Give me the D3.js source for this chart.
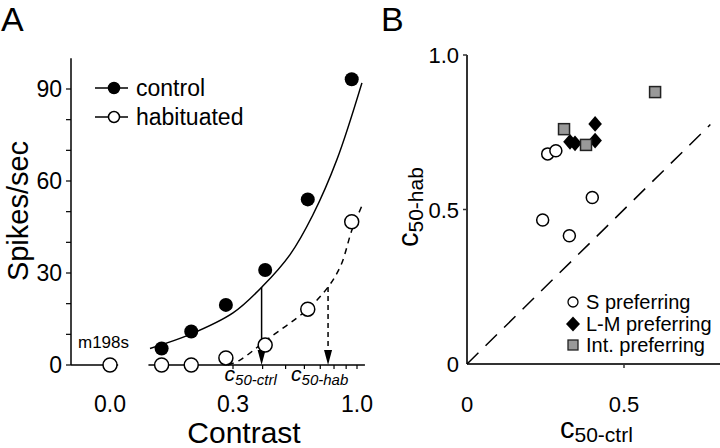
<!DOCTYPE html>
<html><head><meta charset="utf-8">
<script src="https://cdn.jsdelivr.net/npm/d3@7"></script>
<style>body{margin:0;background:#fff} svg{display:block} text{font-family:"Liberation Sans",Arial,Helvetica,sans-serif;fill:#000}</style>
</head><body><svg id="c" width="720" height="448"></svg>
<script>
// ---------- Panel A data ----------
const contrast = [0.15, 0.2, 0.28, 0.41, 0.62, 0.95];
const controlRate = [5.4, 10.9, 19.6, 31.0, 54.0, 93.2];
const habituatedRate = [0, 0, 2.3, 6.5, 18.2, 46.7];
const blankContrast = [0];
const blankRate = [0];
const controlFitContrast = [0.134, 0.198, 0.30, 0.398, 0.522, 0.652, 0.823, 1.049];
const controlFitRate = [5.4, 10.0, 17.0, 25.5, 36.0, 49.0, 67.0, 92.0];
const habFitContrast = [0.286, 0.321, 0.416, 0.613, 0.755, 0.856, 0.952, 1.05];
const habFitRate = [0, 1.6, 8.2, 17.9, 25.4, 32.6, 44.0, 52];
const c50Names = ["ctrl", "hab"];
const c50Values = [0.396, 0.755];
const c50Rates = [25.4, 25.4];
const yTicksA = [0, 30, 60, 90];
const yMinorA = [10, 20, 40, 50, 70, 80];
const xTicksA = [0.3, 1.0];
const xTickLabelsA = ["0.3", "1.0"];
const xMinorA = [0.2, 0.4, 0.5, 0.6, 0.7, 0.8, 0.9];
const legendA = ["control", "habituated"];
const cellName = "m198s";

// ---------- Panel B data ----------
const sPrefCtrl = [0.257, 0.283, 0.399, 0.241, 0.326];
const sPrefHab  = [0.680, 0.690, 0.539, 0.466, 0.415];
const lmPrefCtrl = [0.328, 0.344, 0.408, 0.408];
const lmPrefHab  = [0.719, 0.714, 0.777, 0.723];
const intPrefCtrl = [0.309, 0.379, 0.599];
const intPrefHab  = [0.760, 0.709, 0.880];
const ticksB = [0, 0.5, 1.0];
const tickLabelsB = ["0", "0.5", "1.0"];
const legendB = ["S preferring", "L-M preferring", "Int. preferring"];

const svg = d3.select("#c");

// ================= PANEL A =================
const xA = d3.scaleLog().domain([0.3, 1.0]).range([233, 357]);
const xZero = d3.scaleLinear().domain([-1, 1]).range([62, 158]);
const yA = d3.scaleLinear().domain([0, 90]).range([365, 89]);
const gA = svg.append("g");

svg.append("text").attr("x", 1).attr("y", 31).attr("font-size", 34).text("A");

// y axis
gA.append("line").attr("x1", 71).attr("x2", 71).attr("y1", yA(100)).attr("y2", yA(0))
  .attr("stroke", "#000").attr("stroke-width", 1.5);
gA.selectAll(".ytA").data(yTicksA.concat(yMinorA)).join("line")
  .attr("x1", 66).attr("x2", 71).attr("y1", d => yA(d)).attr("y2", d => yA(d))
  .attr("stroke", "#000").attr("stroke-width", 1.2);
gA.selectAll(".ylA").data(yTicksA).join("text")
  .attr("x", 62).attr("y", d => yA(d) + 8).attr("text-anchor", "end").attr("font-size", 23)
  .text(d => d);

// x axis (broken)
gA.append("line").attr("x1", 71).attr("x2", xZero(0.17)).attr("y1", yA(0)).attr("y2", yA(0))
  .attr("stroke", "#000").attr("stroke-width", 1.5);
gA.append("line").attr("x1", xA(0.132)).attr("x2", xA(1.08)).attr("y1", yA(0)).attr("y2", yA(0))
  .attr("stroke", "#000").attr("stroke-width", 1.5);
gA.selectAll(".xtA").data(xTicksA.concat(xMinorA)).join("line")
  .attr("x1", d => xA(d)).attr("x2", d => xA(d)).attr("y1", yA(0)).attr("y2", yA(0) + 4)
  .attr("stroke", "#000").attr("stroke-width", 1.2);
gA.selectAll(".xlA").data(xTicksA).join("text")
  .attr("x", d => xA(d)).attr("y", 412).attr("text-anchor", "middle").attr("font-size", 23)
  .text((d, i) => xTickLabelsA[i]);
gA.append("text").attr("x", xZero(0)).attr("y", 412).attr("text-anchor", "middle").attr("font-size", 23).text("0.0");

// axis titles
gA.append("text").attr("x", 244).attr("y", 443).attr("text-anchor", "middle").attr("font-size", 30).text("Contrast");
gA.append("text").attr("transform", "translate(28,211) rotate(-90)").attr("text-anchor", "middle")
  .attr("font-size", 29).text("Spikes/sec");

// fit curves
const lineA = d3.line().x(d => xA(d[0])).y(d => yA(d[1])).curve(d3.curveCatmullRom);
gA.append("path").attr("d", lineA(controlFitContrast.map((c, i) => [c, controlFitRate[i]])))
  .attr("fill", "none").attr("stroke", "#000").attr("stroke-width", 1.5);
gA.append("path").attr("d", lineA(habFitContrast.map((c, i) => [c, habFitRate[i]])))
  .attr("fill", "none").attr("stroke", "#000").attr("stroke-width", 1.5).attr("stroke-dasharray", "6,5");

// c50 arrows
c50Values.forEach((c, i) => {
  const x = xA(c);
  gA.append("line").attr("x1", x).attr("x2", x).attr("y1", yA(c50Rates[i])).attr("y2", yA(0) - 12)
    .attr("stroke", "#000").attr("stroke-width", 1.5).attr("stroke-dasharray", i === 1 ? "5,4" : null);
  gA.append("path").attr("d", `M${x - 4},${yA(0) - 15}L${x + 4},${yA(0) - 15}L${x},${yA(0)}Z`).attr("fill", "#000");
  const t = gA.append("text").attr("x", x - 37).attr("y", 381).attr("font-style", "italic").attr("font-size", 21);
  t.append("tspan").text("c");
  t.append("tspan").attr("dy", 4).attr("font-size", 15).text("50-" + c50Names[i]);
});

// data points
gA.selectAll(".hab").data(contrast).join("circle")
  .attr("cx", d => xA(d)).attr("cy", (d, i) => yA(habituatedRate[i])).attr("r", 7)
  .attr("fill", "#fff").attr("stroke", "#000").attr("stroke-width", 1.5);
gA.selectAll(".ctl").data(contrast).join("circle")
  .attr("cx", d => xA(d)).attr("cy", (d, i) => yA(controlRate[i])).attr("r", 7)
  .attr("fill", "#000");
gA.selectAll(".blank").data(blankContrast).join("circle")
  .attr("cx", d => xZero(d)).attr("cy", (d, i) => yA(blankRate[i])).attr("r", 7)
  .attr("fill", "#fff").attr("stroke", "#000").attr("stroke-width", 1.5);
gA.append("text").attr("x", 78).attr("y", 348).attr("font-size", 17).text(cellName);

// legend A
legendA.forEach((name, i) => {
  const y = 88 + i * 29;
  gA.append("line").attr("x1", 95).attr("x2", 128).attr("y1", y).attr("y2", y).attr("stroke", "#000").attr("stroke-width", 1.5);
  gA.append("circle").attr("cx", 114).attr("cy", y).attr("r", 5.5)
    .attr("fill", i === 0 ? "#000" : "#fff").attr("stroke", "#000").attr("stroke-width", 1.5);
  gA.append("text").attr("x", 136).attr("y", y + 8).attr("font-size", 23).text(name);
});

// ================= PANEL B =================
const xB = d3.scaleLinear().domain([0, 0.5]).range([467, 624]);
const yB = d3.scaleLinear().domain([0, 1]).range([364, 55]);
const gB = svg.append("g");
const axC = "#333";

svg.append("text").attr("x", 381).attr("y", 31).attr("font-size", 34).text("B");

gB.append("line").attr("x1", xB(0)).attr("x2", xB(0)).attr("y1", yB(1)).attr("y2", yB(0))
  .attr("stroke", axC).attr("stroke-width", 2);
gB.append("line").attr("x1", xB(0)).attr("x2", 720).attr("y1", yB(0)).attr("y2", yB(0))
  .attr("stroke", axC).attr("stroke-width", 2);
gB.selectAll(".ytB").data(ticksB.slice(1)).join("line")
  .attr("x1", xB(0) - 4).attr("x2", xB(0)).attr("y1", d => yB(d)).attr("y2", d => yB(d))
  .attr("stroke", axC).attr("stroke-width", 1.5);
gB.selectAll(".xtB").data([0.5]).join("line")
  .attr("x1", d => xB(d)).attr("x2", d => xB(d)).attr("y1", yB(0)).attr("y2", yB(0) + 4)
  .attr("stroke", axC).attr("stroke-width", 1.5);
gB.selectAll(".ylB").data(ticksB).join("text")
  .attr("x", xB(0) - 8).attr("y", d => yB(d) + 8).attr("text-anchor", "end").attr("font-size", 22)
  .text((d, i) => tickLabelsB[i]);
gB.selectAll(".xlB").data(ticksB.slice(0, 2)).join("text")
  .attr("x", d => xB(d)).attr("y", 412).attr("text-anchor", "middle").attr("font-size", 22)
  .text((d, i) => tickLabelsB[i]);

// axis titles B
const tx = gB.append("text").attr("x", 560).attr("y", 438).attr("font-size", 29);
tx.append("tspan").text("c");
tx.append("tspan").attr("dy", 4).attr("font-size", 21).text("50-ctrl");
const ty = gB.append("text").attr("transform", "translate(418,247) rotate(-90)").attr("font-size", 29);
ty.append("tspan").text("c");
ty.append("tspan").attr("dy", 5).attr("font-size", 21).text("50-hab");

// unity line
gB.append("line").attr("x1", xB(0)).attr("y1", yB(0)).attr("x2", xB(0.775)).attr("y2", yB(0.775))
  .attr("stroke", "#000").attr("stroke-width", 1.5).attr("stroke-dasharray", "16,10");

const diamond = (x, y, w, h) => `M${x},${y - h}L${x + w},${y}L${x},${y + h}L${x - w},${y}Z`;

gB.selectAll(".s").data(sPrefCtrl).join("circle")
  .attr("cx", d => xB(d)).attr("cy", (d, i) => yB(sPrefHab[i])).attr("r", 6)
  .attr("fill", "#fff").attr("stroke", "#000").attr("stroke-width", 1.5);
gB.selectAll(".lm").data(lmPrefCtrl).join("path")
  .attr("d", (d, i) => diamond(xB(d), yB(lmPrefHab[i]), 6.8, 7.8)).attr("fill", "#000");
gB.selectAll(".int").data(intPrefCtrl).join("rect")
  .attr("x", d => xB(d) - 5.5).attr("y", (d, i) => yB(intPrefHab[i]) - 5.5).attr("width", 11).attr("height", 11)
  .attr("fill", "#999").attr("stroke", "#222").attr("stroke-width", 1.5);

// legend B
const ly = [302, 324, 345];
gB.append("circle").attr("cx", 573).attr("cy", ly[0]).attr("r", 5).attr("fill", "#fff").attr("stroke", "#000").attr("stroke-width", 1.3);
gB.append("path").attr("d", diamond(573, ly[1], 7, 7.5)).attr("fill", "#000");
gB.append("rect").attr("x", 568).attr("y", ly[2] - 5).attr("width", 10).attr("height", 10)
  .attr("fill", "#999").attr("stroke", "#222").attr("stroke-width", 1.3);
legendB.forEach((name, i) => {
  gB.append("text").attr("x", 586).attr("y", ly[i] + 7).attr("font-size", 20).text(name);
});
</script></body></html>
